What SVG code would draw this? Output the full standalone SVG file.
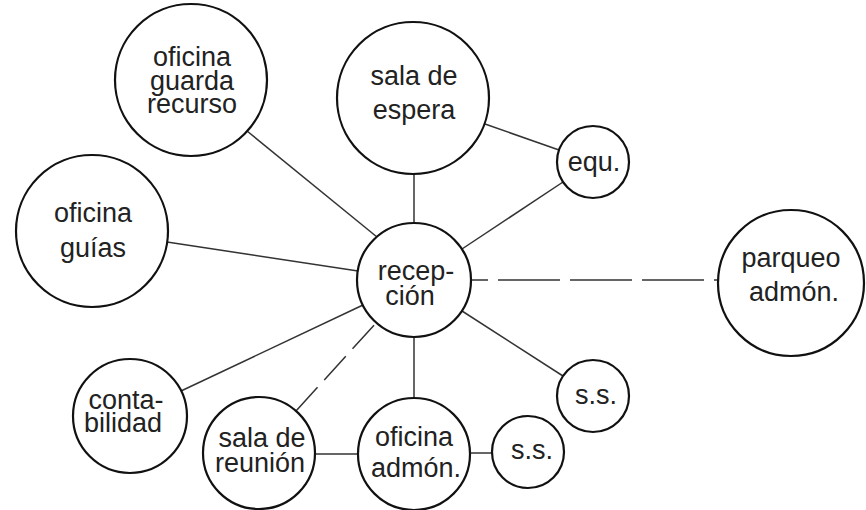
<svg xmlns="http://www.w3.org/2000/svg" width="866" height="510" viewBox="0 0 866 510">
<style>
.n{fill:#fff;stroke:#111;stroke-width:2.2}
.t{font-family:"Liberation Sans",Arial,sans-serif;font-size:27px;fill:#222;text-anchor:middle}
.c{stroke:#333;stroke-width:1.5;fill:none}
.d{stroke-dasharray:62 10;stroke-dashoffset:45}
.d2{stroke-dasharray:32 10}
</style>
<rect width="866" height="510" fill="#fff"/>
<g id="connectors">
<line class="c" x1="247" y1="131" x2="377" y2="237"/>
<line class="c" x1="414" y1="174" x2="414" y2="223"/>
<line class="c" x1="485" y1="124" x2="559" y2="150"/>
<line class="c" x1="462" y1="249" x2="563" y2="182"/>
<line class="c" x1="167" y1="242" x2="358" y2="271"/>
<line class="c d" x1="471" y1="280" x2="718" y2="280"/>
<line class="c" x1="363" y1="305" x2="181" y2="391"/>
<line class="c d2" x1="296" y1="411" x2="376" y2="323"/>
<line class="c" x1="414" y1="337" x2="414" y2="398"/>
<line class="c" x1="462" y1="311" x2="563" y2="376"/>
<line class="c" x1="315" y1="454" x2="358" y2="454"/>
<line class="c" x1="470" y1="453" x2="492" y2="453"/>
</g>
<g id="oficina-guarda-recurso">
<circle class="n" cx="191" cy="80" r="76"/>
<text class="t" x="192" y="66">oficina</text>
<text class="t" x="192" y="90">guarda</text>
<text class="t" x="192" y="113">recurso</text>
</g>
<g id="sala-de-espera">
<circle class="n" cx="413" cy="98" r="76"/>
<text class="t" x="414" y="85">sala de</text>
<text class="t" x="414" y="119">espera</text>
</g>
<g id="equ">
<circle class="n" cx="593" cy="162" r="36"/>
<text class="t" x="594" y="171">equ.</text>
</g>
<g id="oficina-guias">
<circle class="n" cx="92" cy="231" r="76"/>
<text class="t" x="93" y="222">oficina</text>
<text class="t" x="93" y="257">guías</text>
</g>
<g id="recepcion">
<circle class="n" cx="414" cy="280" r="57"/>
<text class="t" x="416" y="280">recep-</text>
<text class="t" x="410" y="305">ción</text>
</g>
<g id="parqueo-admon">
<circle class="n" cx="791" cy="283" r="73"/>
<text class="t" x="791" y="267">parqueo</text>
<text class="t" x="794" y="301">admón.</text>
</g>
<g id="contabilidad">
<circle class="n" cx="130" cy="416" r="57"/>
<text class="t" x="126" y="409">conta-</text>
<text class="t" x="123" y="432">bilidad</text>
</g>
<g id="sala-de-reunion">
<circle class="n" cx="259" cy="453" r="56"/>
<text class="t" x="262" y="447">sala de</text>
<text class="t" x="260" y="472">reunión</text>
</g>
<g id="oficina-admon">
<circle class="n" cx="414" cy="454" r="56"/>
<text class="t" x="414" y="446">oficina</text>
<text class="t" x="416" y="477">admón.</text>
</g>
<g id="ss-right">
<circle class="n" cx="593" cy="396" r="36"/>
<text class="t" x="596" y="404">s.s.</text>
</g>
<g id="ss-bottom">
<circle class="n" cx="528" cy="452" r="36"/>
<text class="t" x="532" y="459">s.s.</text>
</g>
</svg>
